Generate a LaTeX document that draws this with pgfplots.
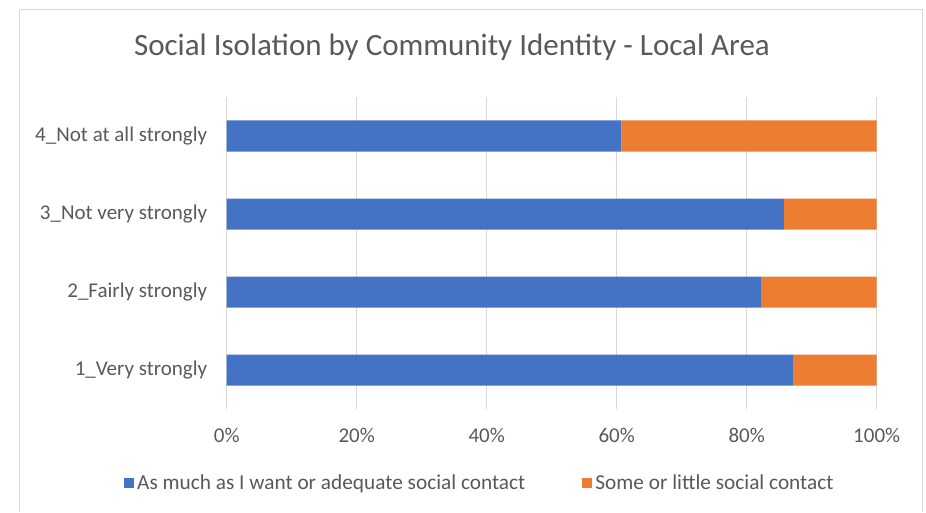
\documentclass[border=0pt]{standalone}
\usepackage{fontspec}
\setmainfont{Carlito}
\usepackage{pgfplots}
\pgfplotsset{compat=1.18}
\definecolor{cblue}{HTML}{4472C4}
\definecolor{corange}{HTML}{ED7D31}
\definecolor{ctext}{HTML}{595959}
\definecolor{cgrid}{HTML}{D9D9D9}
\begin{document}
\begin{tikzpicture}[x=1pt,y=1pt]
\path[use as bounding box] (0,0) rectangle (926,512);
\draw[cgrid, line width=1pt] (19,0) -- (19,502) -- (922,502) -- (922,0);
\node[text=ctext, font=\fontsize{31}{34}\selectfont] at (452,465) {Social Isolation by Community Identity - Local Area};
\begin{axis}[
  at={(226.7pt,103pt)}, anchor=south west,
  scale only axis, width=650pt, height=312pt,
  xbar stacked, bar width=31pt,
  xmin=0, xmax=100, ymin=0.5, ymax=4.5,
  xtick={0,20,40,60,80,100},
  xticklabel={\pgfmathprintnumber{\tick}\%},
  ytick={1,2,3,4},
  yticklabels={1\_Very strongly,2\_Fairly strongly,3\_Not very strongly,4\_Not at all strongly},
  /pgf/number format/assume math mode=true,
  xmajorgrids, major grid style={cgrid, line width=1pt},
  axis line style={draw=none},
  major tick length=0pt,
  tick label style={text=ctext, font=\fontsize{21}{23}\selectfont},
  xticklabel style={yshift=-16pt},
  yticklabel style={xshift=-16pt},
  legend style={draw=none, fill=none, at={(-0.158,-0.237)}, anchor=west, legend columns=2,
    inner sep=0pt, font=\fontsize{21.3}{23}\selectfont, text=ctext,
    nodes={inner sep=3pt},
    /tikz/every even column/.append style={column sep=54pt}},
  legend image code/.code={\fill[#1] (0pt,-5pt) rectangle (10pt,5pt);},
]
\addplot[fill=cblue, draw=none] coordinates {(87.1,1) (82.3,2) (85.7,3) (60.7,4)};
\addplot[fill=corange, draw=none] coordinates {(12.9,1) (17.7,2) (14.3,3) (39.3,4)};
\legend{As much as I want or adequate social contact, Some or little social contact}
\end{axis}
\end{tikzpicture}
\end{document}
